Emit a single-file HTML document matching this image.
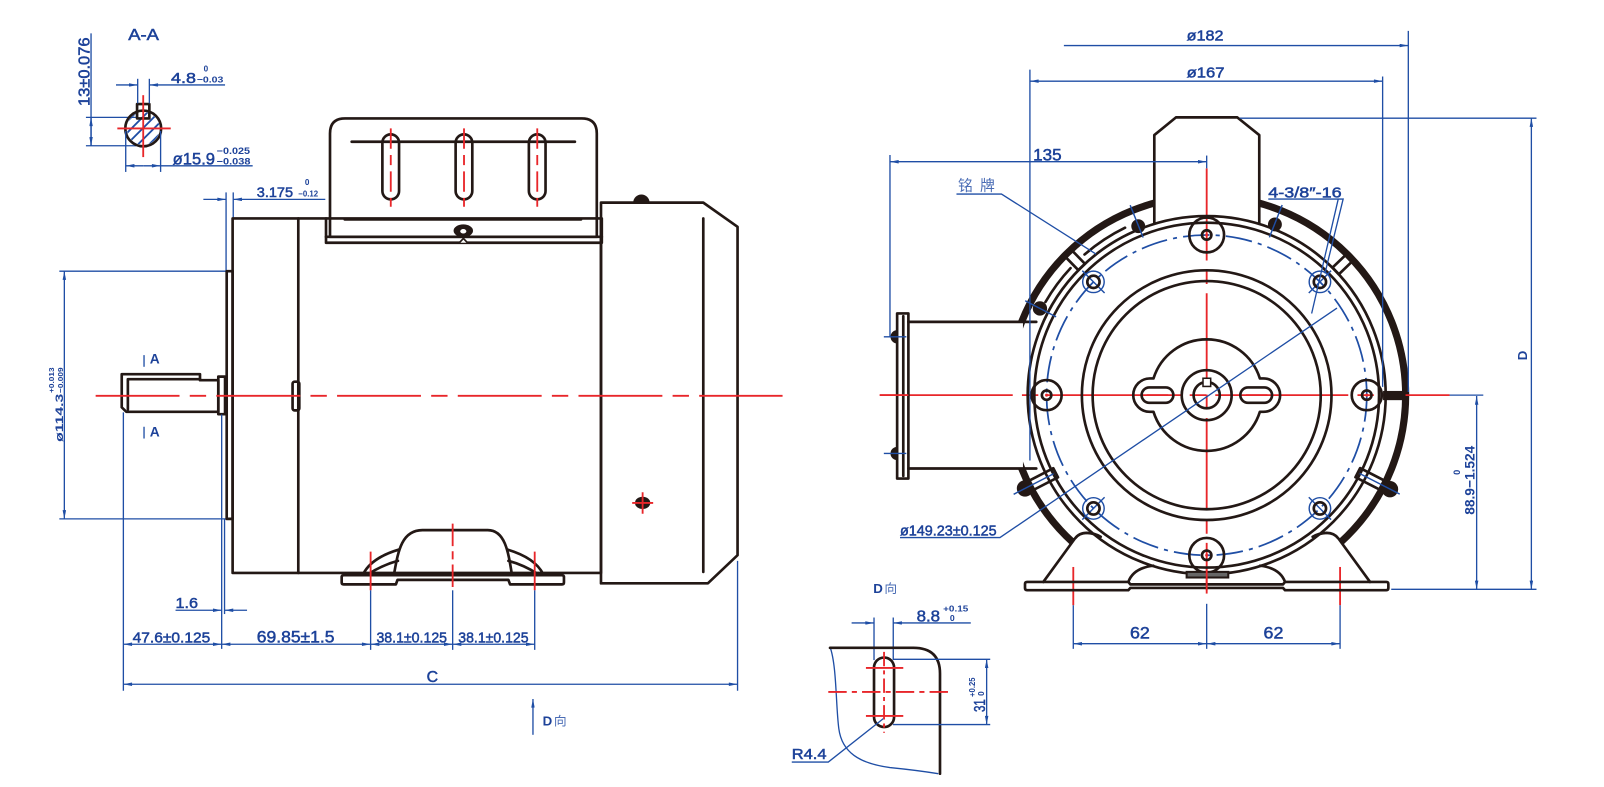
<!DOCTYPE html>
<html><head><meta charset="utf-8">
<style>
html,body{margin:0;padding:0;background:#fff;overflow:hidden}
svg{display:block}
.k{stroke:#231815;fill:none;stroke-width:2.6;stroke-linejoin:round;stroke-linecap:round}
.b{stroke:#1f4ea5;fill:none;stroke-width:1.3}
.r{stroke:#e8262a;fill:none;stroke-width:1.8}
text{font-family:"Liberation Sans",sans-serif;fill:#1d4299;stroke:#1d4299;stroke-width:0.5}
.s{font-weight:bold;stroke-width:0}
.cj{font-family:"Liberation Sans","Noto Sans CJK SC",sans-serif;fill:#4a6cb5;stroke:none}
</style></head><body>
<svg width="1604" height="787" viewBox="0 0 1568 769" preserveAspectRatio="none" xmlns="http://www.w3.org/2000/svg">
<defs>
<marker id="a" viewBox="0 0 10 4" refX="10" refY="2" markerWidth="9" markerHeight="3.4" orient="auto-start-reverse" markerUnits="userSpaceOnUse"><path d="M0,0L10,2L0,4z" fill="#1f4ea5"/></marker>
<clipPath id="cc"><circle cx="140" cy="125.5" r="16"/></clipPath>
</defs>

<!-- ================= A-A SECTION ================= -->
<text x="125.4" y="39" font-size="15.5" textLength="30" lengthAdjust="spacingAndGlyphs">A-A</text>
<line class="b" x1="89" y1="32.6" x2="89" y2="142.4"/>
<line class="b" x1="89" y1="128" x2="89" y2="114.7" marker-end="url(#a)"/>
<line class="b" x1="89" y1="128" x2="89" y2="142.4" marker-end="url(#a)"/>
<line class="b" x1="84" y1="114.7" x2="133" y2="114.7"/>
<line class="b" x1="84" y1="142.4" x2="133" y2="142.4"/>
<text transform="translate(87.5,103.6) rotate(-90)" font-size="15" textLength="67" lengthAdjust="spacingAndGlyphs">13±0.076</text>

<circle cx="140" cy="125.5" r="17.5" class="k" stroke-width="3"/>
<g clip-path="url(#cc)" stroke="#1f4ea5" stroke-width="1.8">
<line x1="100" y1="165" x2="160" y2="105"/>
<line x1="111" y1="165" x2="171" y2="105"/>
<line x1="122" y1="165" x2="182" y2="105"/>
<line x1="89" y1="165" x2="149" y2="105"/>
<line x1="78" y1="165" x2="138" y2="105"/>
</g>
<rect x="134" y="101.7" width="12" height="14" class="k" fill="#fff" stroke-width="2.8"/>
<line class="r" x1="114.7" y1="125.5" x2="166.9" y2="125.5"/>
<line class="r" x1="140" y1="93" x2="140" y2="153.5"/>

<line class="b" x1="113.4" y1="83" x2="134.6" y2="83" marker-end="url(#a)"/>
<line class="b" x1="220" y1="83" x2="146" y2="83" marker-end="url(#a)"/>
<line class="b" x1="134.6" y1="77" x2="134.6" y2="101"/>
<line class="b" x1="146" y1="77" x2="146" y2="101"/>
<text x="167.2" y="81.3" font-size="14.5" textLength="24.4" lengthAdjust="spacingAndGlyphs">4.8</text>
<text class="s" x="199" y="70" font-size="8">0</text>
<text class="s" x="192.3" y="80.6" font-size="8.5" textLength="26" lengthAdjust="spacingAndGlyphs">−0.03</text>

<line class="b" x1="122.9" y1="128" x2="122.9" y2="168"/>
<line class="b" x1="157" y1="128" x2="157" y2="168"/>
<line class="b" x1="140" y1="162" x2="122.9" y2="162" marker-end="url(#a)"/>
<line class="b" x1="140" y1="162" x2="157" y2="162" marker-end="url(#a)"/>
<line class="b" x1="157" y1="162" x2="247" y2="162"/>
<text x="168.8" y="160.6" font-size="16.5" textLength="41.4" lengthAdjust="spacingAndGlyphs">ø15.9</text>
<text class="s" x="211.8" y="150.5" font-size="9" textLength="32.6" lengthAdjust="spacingAndGlyphs">−0.025</text>
<text class="s" x="211.8" y="160.8" font-size="9" textLength="33" lengthAdjust="spacingAndGlyphs">−0.038</text>

<!-- 3.175 -->
<line class="b" x1="198.8" y1="194.8" x2="221" y2="194.8" marker-end="url(#a)"/>
<line class="b" x1="318" y1="194.8" x2="228" y2="194.8" marker-end="url(#a)"/>
<line class="b" x1="221" y1="188" x2="221" y2="265"/>
<line class="b" x1="228" y1="188" x2="228" y2="213.4"/>
<text x="251" y="192.3" font-size="13.5" textLength="35.5" lengthAdjust="spacingAndGlyphs">3.175</text>
<text class="s" x="298" y="181" font-size="8">0</text>
<text class="s" x="291.6" y="192" font-size="8" textLength="19.4" lengthAdjust="spacingAndGlyphs">−0.12</text>

<!-- ================= SIDE VIEW ================= -->
<!-- ø114.3 -->
<line class="b" x1="58" y1="265" x2="221" y2="265"/>
<line class="b" x1="58" y1="507" x2="221" y2="507"/>
<line class="b" x1="62.9" y1="386" x2="62.9" y2="265" marker-end="url(#a)"/>
<line class="b" x1="62.9" y1="386" x2="62.9" y2="507" marker-end="url(#a)"/>
<text class="s" transform="translate(61.5,431.8) rotate(-90)" font-size="11" textLength="47" lengthAdjust="spacingAndGlyphs">ø114.3</text>
<text class="s" transform="translate(61.5,384) rotate(-90)" font-size="7.5" textLength="25" lengthAdjust="spacingAndGlyphs">−0.009</text>
<text class="s" transform="translate(53,384) rotate(-90)" font-size="7.5" textLength="25" lengthAdjust="spacingAndGlyphs">+0.013</text>

<!-- rear cover -->
<path class="k" fill="#fff" stroke-width="2.8" d="M587.5,198 H687.5 L721,221.6 V542.5 L692,570 H587.5 Z"/>
<path d="M619,198 A8,8 0 0 1 635,198 Z" fill="#231815"/>
<line class="k" x1="687.5" y1="213.4" x2="687.5" y2="558.8" stroke-width="2.6"/>
<!-- body -->
<rect class="k" x="227.4" y="213.4" width="360.1" height="346.4" stroke-width="2.8"/>
<line class="k" x1="291.6" y1="213.4" x2="291.6" y2="559.8"/>
<rect class="k" x="286" y="373" width="6.6" height="28" rx="2" fill="#fff"/>
<!-- flange -->
<rect class="k" x="221.6" y="265" width="5.8" height="242" fill="#fff" stroke-width="2.6"/>
<!-- shaft -->
<path class="k" stroke-width="2.8" fill="#fff" d="M213.4,371.5 H195.5 V365.6 H119 V398 L123.5,402.4 H213.4 Z"/>
<path class="k" stroke-width="1.8" d="M125,370.5 H195.5 M125,370.5 V400"/>
<rect class="k" x="213.4" y="368" width="6.6" height="36.7" fill="#fff" stroke-width="2.6"/>

<!-- terminal box -->
<path class="k" fill="#fff" stroke-width="2.8" d="M318.7,213.4 V237.2 H588.3 V213.4"/>
<path class="k" fill="#fff" stroke-width="2.8" d="M322.6,231.4 V130.4 Q322.6,115.7 337.3,115.7 H568.7 Q583.4,115.7 583.4,130.4 V231.4 Z"/>
<line class="k" x1="318.7" y1="231.4" x2="588.3" y2="231.4" stroke-width="2.4"/>
<line class="k" x1="343.8" y1="138.5" x2="562" y2="138.5"/>
<line class="k" x1="337" y1="214.4" x2="568" y2="214.4"/>
<ellipse cx="452.9" cy="225.5" rx="9.5" ry="6.2" fill="#231815"/>
<ellipse cx="452.9" cy="226" rx="3" ry="2.2" fill="#fff"/>
<path d="M449,237.2 L453,233 L457,237.2" fill="#fff" stroke="#231815" stroke-width="1.6"/>
<rect class="k" x="373.8" y="131.3" width="16.3" height="63.5" rx="8.15" fill="#fff" stroke-width="2.8"/>
<rect class="k" x="445.4" y="131.3" width="16.3" height="63.5" rx="8.15" fill="#fff" stroke-width="2.8"/>
<rect class="k" x="517" y="131.3" width="16.3" height="63.5" rx="8.15" fill="#fff" stroke-width="2.8"/>
<g class="r" stroke-dasharray="20,6,10,6">
<line x1="382" y1="125.4" x2="382" y2="202"/>
<line x1="453.6" y1="125.4" x2="453.6" y2="202"/>
<line x1="525.2" y1="125.4" x2="525.2" y2="202"/>
</g>

<!-- feet side -->
<path class="k" stroke-width="2.6" d="M385,562 C389,540 392,518 413,518 H476.8 C494,518 497,540 500.5,562"/>
<path class="k" stroke-width="2.4" d="M355,561 Q363,545 390,537 M360,561 Q374,552 389,548"/>
<path class="k" stroke-width="2.4" d="M531,561 Q523,545 496,537 M526,561 Q512,552 497,548"/>
<path class="k" fill="#fff" stroke-width="2.6" d="M336,562 H549.3 Q551.3,562 551.3,564 V569 Q551.3,571 549.3,571 H498.6 L497,566.6 H388.6 L387,571 H336 Q334,571 334,569 V564 Q334,562 336,562 Z"/>
<line class="r" x1="362.3" y1="539" x2="362.3" y2="576.8"/>
<line class="r" x1="522.7" y1="539" x2="522.7" y2="576.8"/>
<line class="r" x1="442.5" y1="511.6" x2="442.5" y2="576.8" stroke-dasharray="22,5,8,5"/>
<line class="b" x1="362.3" y1="576.8" x2="362.3" y2="635"/>
<line class="b" x1="442.5" y1="576.8" x2="442.5" y2="635"/>
<line class="b" x1="522.7" y1="576.8" x2="522.7" y2="635"/>

<!-- red mark on rear -->
<ellipse cx="628.2" cy="491.4" rx="7.5" ry="6" fill="#231815"/>
<line class="r" x1="618" y1="491.4" x2="638.5" y2="491.4" stroke-width="1.5"/>
<line class="r" x1="628.2" y1="481" x2="628.2" y2="502" stroke-width="1.5"/>

<!-- side centerline -->
<line class="r" x1="93.5" y1="386.8" x2="765" y2="386.8" stroke-dasharray="82,10,16,10"/>

<!-- |A labels -->
<line class="b" x1="140.8" y1="347" x2="140.8" y2="358.4" stroke-width="1.7"/>
<text class="s" x="146.4" y="355.2" font-size="13.5">A</text>
<line class="b" x1="140.8" y1="417" x2="140.8" y2="428.5" stroke-width="1.7"/>
<text class="s" x="146.4" y="426.5" font-size="13.5">A</text>

<!-- ext lines -->
<line class="b" x1="120.6" y1="403" x2="120.6" y2="675"/>
<line class="b" x1="216.7" y1="405" x2="216.7" y2="634"/>
<line class="b" x1="219.5" y1="507" x2="219.5" y2="600"/>
<line class="b" x1="721" y1="548" x2="721" y2="675"/>

<!-- 1.6 -->
<line class="b" x1="171.6" y1="596.3" x2="216.7" y2="596.3" marker-end="url(#a)"/>
<line class="b" x1="241.5" y1="596.3" x2="219.5" y2="596.3" marker-end="url(#a)"/>
<text x="171.6" y="594.3" font-size="14.5" textLength="22" lengthAdjust="spacingAndGlyphs">1.6</text>

<!-- dim row -->
<line class="b" x1="120.6" y1="629.5" x2="216.7" y2="629.5" marker-start="url(#a)" marker-end="url(#a)"/>
<line class="b" x1="216.7" y1="629.5" x2="362.3" y2="629.5" marker-start="url(#a)" marker-end="url(#a)"/>
<line class="b" x1="362.3" y1="629.5" x2="442.5" y2="629.5" marker-start="url(#a)" marker-end="url(#a)"/>
<line class="b" x1="442.5" y1="629.5" x2="522.7" y2="629.5" marker-start="url(#a)" marker-end="url(#a)"/>
<text x="129.7" y="627.6" font-size="14.3" textLength="75.8" lengthAdjust="spacingAndGlyphs">47.6±0.125</text>
<text x="251" y="627.6" font-size="16.3" textLength="76" lengthAdjust="spacingAndGlyphs">69.85±1.5</text>
<text x="368" y="627.6" font-size="14.3" textLength="69" lengthAdjust="spacingAndGlyphs">38.1±0.125</text>
<text x="448" y="627.6" font-size="14.3" textLength="68.7" lengthAdjust="spacingAndGlyphs">38.1±0.125</text>

<!-- C -->
<line class="b" x1="120.6" y1="668.6" x2="721" y2="668.6" marker-start="url(#a)" marker-end="url(#a)"/>
<text x="417" y="666.3" font-size="15.5">C</text>

<!-- D direction arrow -->
<line class="b" x1="521" y1="683" x2="521" y2="718" marker-start="url(#a)" stroke-width="1.5"/>
<text class="s" x="530.5" y="709" font-size="13">D</text>
<text class="cj" x="541.5" y="709" font-size="12.5" fill="#3b5fae">向</text>

<!-- ================= FRONT VIEW ================= -->
<!-- outer ring -->
<circle cx="1179.6" cy="386.1" r="194.5" stroke="#231815" stroke-width="7" fill="none"/>
<!-- covers -->
<path d="M1128.4,210 V132 L1149.6,114.7 H1209.5 L1231,132 V210 Z" fill="#fff"/>
<rect x="888" y="314.5" width="112" height="143.3" fill="#fff"/>
<path d="M1002,592 V568.6 H1019.9 L1050.8,526.2 Q1055,520.7 1062.3,520.7 H1296.9 Q1304.2,520.7 1308.4,526.2 L1339.3,568.6 H1357.2 V592 Z" fill="#fff"/>
<!-- terminal box -->
<path class="k" stroke-width="3" d="M1128.4,218 V132 L1149.6,114.7 H1209.5 L1231,132 V218"/>

<!-- red center lines -->
<line class="r" x1="860" y1="386.1" x2="1417" y2="386.1" stroke-dasharray="130,9,16,9"/>
<line class="r" x1="1179.6" y1="164.5" x2="1179.6" y2="576.8" stroke-dasharray="90,9,14,9"/>
<line class="r" x1="1049.2" y1="554" x2="1049.2" y2="591.4"/>
<line class="r" x1="1310" y1="554" x2="1310" y2="591.4"/>

<!-- bumps (tie rod nuts) -->
<circle cx="1112.7" cy="221" r="6.8" fill="#231815"/>
<circle cx="1246.3" cy="219.3" r="6.8" fill="#231815"/>
<circle cx="1016.6" cy="301.4" r="7" fill="#231815"/>

<!-- windows -->
<rect class="k" x="175" y="-4.5" width="20" height="9" fill="#fff" stroke-width="2.4" transform="translate(1179.6,386.1) rotate(-134.3)"/>
<rect class="k" x="175" y="-4.5" width="20" height="9" fill="#fff" stroke-width="2.4" transform="translate(1179.6,386.1) rotate(-43.9)"/>
<!-- lower lugs -->
<rect class="k" x="166" y="-5" width="30" height="10" fill="#fff" stroke-width="2.6" transform="translate(1179.6,386.1) rotate(152.8)"/>
<rect class="k" x="166" y="-5" width="30" height="10" fill="#fff" stroke-width="2.6" transform="translate(1179.6,386.1) rotate(27.15)"/>
<circle cx="1002" cy="477.3" r="8" fill="#231815"/>
<circle cx="1358.8" cy="478" r="8" fill="#231815"/>
<!-- 3 o'clock lug -->
<rect x="1352" y="382" width="22" height="9" fill="#231815"/>

<!-- rings -->
<circle cx="1179.6" cy="386.1" r="175" class="k" stroke-width="3.6"/>
<circle cx="1179.6" cy="386.1" r="168.5" class="k" stroke-width="2.4"/>
<!-- nameplate -->
<path class="k" stroke-width="2" d="M1022,295.1 A182,182 0 0 1 1046.5,262 M1060.2,248.7 A182,182 0 0 1 1099.8,222.5"/>
<!-- bolt circle -->
<circle cx="1179.6" cy="386.1" r="156.5" fill="none" stroke="#1f4ea5" stroke-width="1.7" stroke-dasharray="26,6,4,6"/>
<circle cx="1179.6" cy="386.1" r="122" class="k" stroke-width="3"/>
<circle cx="1179.6" cy="386.1" r="111.5" class="k" stroke-width="3"/>
<!-- hub -->
<path class="k" stroke-width="3" d="M1127.6,369.8 A54.5,54.5 0 0 1 1231.6,369.8 H1235.1 A16.3,16.3 0 0 1 1235.1,402.4 H1231.6 A54.5,54.5 0 0 1 1127.6,402.4 H1124.1 A16.3,16.3 0 0 1 1124.1,369.8 Z"/>
<rect class="k" x="1116" y="378.6" width="31" height="15" rx="7.5" fill="#fff" stroke-width="4"/>
<rect class="k" x="1212.5" y="378.6" width="31" height="15" rx="7.5" fill="#fff" stroke-width="4"/>
<line class="r" x1="1121" y1="386.1" x2="1142" y2="386.1" stroke-width="2.2"/>
<line class="r" x1="1218" y1="386.1" x2="1239" y2="386.1" stroke-width="2.2"/>
<!-- shaft -->
<circle cx="1179.6" cy="386.1" r="24.4" class="k" stroke-width="3"/>
<circle cx="1179.6" cy="386.1" r="12.8" class="k" stroke-width="6"/>
<rect x="1176" y="369.6" width="7.5" height="8" fill="#fff" stroke="#231815" stroke-width="1.5"/>

<!-- big bolt holes -->
<g class="k" stroke-width="3">
<circle cx="1179.6" cy="229.6" r="17"/>
<circle cx="1179.6" cy="542.6" r="17"/>
<circle cx="1023.1" cy="386.1" r="14.7"/>
<circle cx="1336.1" cy="386.1" r="14.7"/>
</g>
<g class="k" stroke-width="3.5">
<circle cx="1179.6" cy="229.6" r="4.6"/>
<circle cx="1179.6" cy="542.6" r="4.6"/>
<circle cx="1023.1" cy="386.1" r="4.6"/>
<circle cx="1336.1" cy="386.1" r="4.6"/>
</g>
<g fill="#e8262a">
<circle cx="1179.6" cy="229.6" r="1.5"/>
<circle cx="1179.6" cy="542.6" r="1.5"/>
<circle cx="1023.1" cy="386.1" r="1.5"/>
<circle cx="1336.1" cy="386.1" r="1.5"/>
</g>
<!-- tapped holes -->
<g fill="none" stroke="#1f4ea5" stroke-width="1.4">
<circle cx="1068.9" cy="275.4" r="10.5"/>
<circle cx="1290.3" cy="275.4" r="10.5"/>
<circle cx="1068.9" cy="496.8" r="10.5"/>
<circle cx="1290.3" cy="496.8" r="10.5"/>
<line x1="1058" y1="264.5" x2="1079.8" y2="286.3"/>
<line x1="1279.4" y1="286.3" x2="1301.2" y2="264.5"/>
<line x1="1079.8" y1="485.9" x2="1058" y2="507.7"/>
<line x1="1279.4" y1="485.9" x2="1301.2" y2="507.7"/>
</g>
<g class="k" stroke-width="3">
<circle cx="1068.9" cy="275.4" r="6"/>
<circle cx="1290.3" cy="275.4" r="6"/>
<circle cx="1068.9" cy="496.8" r="6"/>
<circle cx="1290.3" cy="496.8" r="6"/>
</g>
<!-- bump axis lines -->
<g stroke="#1f4ea5" stroke-width="1.4">
<line x1="1117.5" y1="232.1" x2="1104.8" y2="200.5"/>
<line x1="1240.9" y1="231.9" x2="1253.4" y2="200.3"/>
<line x1="1032.4" y1="309.6" x2="1002.2" y2="293.9"/>
<line x1="1030" y1="462.9" x2="990.9" y2="483"/>
<line x1="1329.1" y1="462.7" x2="1368.3" y2="482.8"/>
</g>

<!-- feet front -->
<path class="k" stroke-width="2.8" d="M1019.9,568.6 L1050.8,526.2 Q1055,520.7 1062.3,520.7 Q1070,521 1076,524.5"/>
<path class="k" stroke-width="2.8" d="M1339.3,568.6 L1308.4,526.2 Q1304.2,520.7 1296.9,520.7 Q1289.2,521 1283.2,524.5"/>
<path class="k" stroke-width="2.6" d="M1103,568.6 Q1108,555 1127.4,552.8 M1256.2,568.6 Q1251.2,555 1231.8,552.8"/>
<path class="k" fill="#fff" stroke-width="2.8" d="M1004,568.6 H1103 L1105,571 H1254.2 L1256.2,568.6 H1355.2 Q1357.2,568.6 1357.2,570.6 V574.7 Q1357.2,576.7 1355.2,576.7 H1256.2 L1254.2,574.5 H1105 L1103,576.7 H1004 Q1002,576.7 1002,574.7 V570.6 Q1002,568.6 1004,568.6 Z"/>
<rect x="1160" y="558.8" width="40.7" height="5.5" fill="#666" stroke="#231815" stroke-width="2"/>
<line class="r" x1="1179.6" y1="556" x2="1179.6" y2="580" stroke-width="1.8"/>

<!-- side box -->
<line class="k" x1="888" y1="314.5" x2="1013" y2="314.5" stroke-width="2.8"/>
<line class="k" x1="888" y1="457.8" x2="1013" y2="457.8" stroke-width="2.8"/>
<rect class="k" x="877" y="306.3" width="11" height="161.3" fill="#fff" stroke-width="3"/>
<line class="k" x1="883" y1="309" x2="883" y2="465" stroke-width="1.4"/>
<path d="M877,322.6 A6.5,6.5 0 0 0 877,335.6 Z" fill="#231815"/>
<path d="M877,436.6 A6.5,6.5 0 0 0 877,449.6 Z" fill="#231815"/>
<line class="b" x1="864" y1="329.1" x2="886" y2="329.1" stroke-width="1.5"/>
<line class="b" x1="864" y1="443.1" x2="886" y2="443.1" stroke-width="1.5"/>
<line class="r" x1="860" y1="386.1" x2="888" y2="386.1"/>

<!-- front dims -->
<line class="b" x1="870" y1="158" x2="1179.6" y2="158" marker-start="url(#a)" marker-end="url(#a)"/>
<line class="b" x1="870" y1="151.5" x2="870" y2="329"/>
<line class="b" x1="1179.6" y1="152" x2="1179.6" y2="164.5"/>
<text x="1010" y="156.6" font-size="16.5" textLength="27.8" lengthAdjust="spacingAndGlyphs">135</text>

<line class="b" x1="1040" y1="44.5" x2="1376.7" y2="44.5" marker-end="url(#a)"/>
<line class="b" x1="1376.7" y1="30.2" x2="1376.7" y2="383"/>
<text x="1160" y="39.5" font-size="14.5" textLength="36" lengthAdjust="spacingAndGlyphs">ø182</text>

<line class="b" x1="1006.8" y1="79.3" x2="1351.6" y2="79.3" marker-start="url(#a)" marker-end="url(#a)"/>
<line class="b" x1="1351.6" y1="74.7" x2="1351.6" y2="378"/>
<line class="b" x1="1006.8" y1="68" x2="1006.8" y2="450"/>
<text x="1160" y="75.5" font-size="14.5" textLength="37" lengthAdjust="spacingAndGlyphs">ø167</text>

<line class="b" x1="1212" y1="115.5" x2="1502" y2="115.5"/>
<line class="b" x1="1360" y1="575.8" x2="1502" y2="575.8"/>
<line class="b" x1="1497" y1="115.5" x2="1497" y2="575.8" marker-start="url(#a)" marker-end="url(#a)"/>
<text class="s" transform="translate(1492.5,352) rotate(-90)" font-size="13">D</text>

<line class="b" x1="1417" y1="386.1" x2="1450" y2="386.1"/>
<line class="b" x1="1443.5" y1="387" x2="1443.5" y2="575.8" marker-start="url(#a)" marker-end="url(#a)"/>
<text class="s" transform="translate(1441.5,503) rotate(-90)" font-size="13.5" textLength="67.5" lengthAdjust="spacingAndGlyphs">88.9−1.524</text>
<text class="s" transform="translate(1427,464) rotate(-90)" font-size="9">0</text>

<line class="b" x1="1049.2" y1="591.4" x2="1049.2" y2="634"/>
<line class="b" x1="1310" y1="591.4" x2="1310" y2="634"/>
<line class="b" x1="1179.6" y1="590" x2="1179.6" y2="634"/>
<line class="b" x1="1049.2" y1="629" x2="1179.6" y2="629" marker-start="url(#a)" marker-end="url(#a)"/>
<line class="b" x1="1179.6" y1="629" x2="1310" y2="629" marker-start="url(#a)" marker-end="url(#a)"/>
<text x="1104.6" y="623.7" font-size="16" textLength="19.4" lengthAdjust="spacingAndGlyphs">62</text>
<text x="1235.2" y="623.7" font-size="16" textLength="19.4" lengthAdjust="spacingAndGlyphs">62</text>

<!-- leaders -->
<path class="b" stroke-width="1.5" d="M879.8,525.3 H977.5 L1307,301"/>
<text x="879.8" y="523.3" font-size="14" textLength="94.5" lengthAdjust="spacingAndGlyphs">ø149.23±0.125</text>

<path class="b" stroke-width="1.4" d="M935,189.6 H979 L1071.4,248.3"/>
<text class="cj" x="936.5" y="186" font-size="14.5" textLength="36" lengthAdjust="spacing">铭 牌</text>

<path class="b" stroke-width="1.5" d="M1239.8,194.5 H1313 L1295.2,267.2 M1308.2,194.5 L1282.2,306.3"/>
<text x="1239.8" y="192.8" font-size="14.5" textLength="71.7" lengthAdjust="spacingAndGlyphs">4-3/8″-16</text>

<!-- ================= D VIEW ================= -->
<text class="s" x="853.7" y="579.4" font-size="13">D</text>
<text class="cj" x="864.5" y="579.4" font-size="12.5" fill="#3b5fae">向</text>

<line class="b" x1="832.5" y1="608.7" x2="854.4" y2="608.7" marker-end="url(#a)"/>
<line class="b" x1="949" y1="608.7" x2="873.2" y2="608.7" marker-end="url(#a)"/>
<line class="b" x1="854.4" y1="603.4" x2="854.4" y2="645"/>
<line class="b" x1="873.2" y1="603.4" x2="873.2" y2="645"/>
<text x="896" y="607.3" font-size="15.5" textLength="23" lengthAdjust="spacingAndGlyphs">8.8</text>
<text class="s" x="922" y="597.5" font-size="8.5" textLength="24.5" lengthAdjust="spacingAndGlyphs">+0.15</text>
<text class="s" x="928.6" y="606.7" font-size="8.5">0</text>

<path class="b" stroke-width="1.5" d="M811.4,632.2 C818,650 817,690 820,712 C823,735 840,746 870,750 C890,752 905,754 917.2,756"/>
<path class="k" stroke-width="3" d="M811.4,633 H892.8 Q918.9,633 918.9,658.2 V756"/>
<rect class="k" x="854.4" y="642.5" width="19.6" height="67.9" rx="9.8" stroke-width="3"/>
<line class="r" x1="864.2" y1="637" x2="864.2" y2="716" stroke-dasharray="14,4,4,4"/>
<line class="r" x1="809.7" y1="676.1" x2="927" y2="676.1" stroke-dasharray="18,5,5,5"/>
<line class="r" x1="846.5" y1="652.7" x2="883" y2="652.7"/>
<line class="r" x1="846.5" y1="699.6" x2="883" y2="699.6"/>

<line class="b" x1="873" y1="644.2" x2="968" y2="644.2"/>
<line class="b" x1="873" y1="708" x2="968" y2="708"/>
<line class="b" x1="964.5" y1="644.2" x2="964.5" y2="708" marker-start="url(#a)" marker-end="url(#a)"/>
<text transform="translate(963,695.7) rotate(-90)" font-size="15.5" textLength="12.5" lengthAdjust="spacingAndGlyphs">31</text>
<text class="s" transform="translate(953,681) rotate(-90)" font-size="8" textLength="19" lengthAdjust="spacingAndGlyphs">+0.25</text>
<text class="s" transform="translate(962,680) rotate(-90)" font-size="8">0</text>

<path class="b" stroke-width="1.5" d="M774,744.6 H809.7 L863.5,702.2"/>
<text x="774" y="741.5" font-size="14.5" textLength="34" lengthAdjust="spacingAndGlyphs">R4.4</text>
</svg>
</body></html>
